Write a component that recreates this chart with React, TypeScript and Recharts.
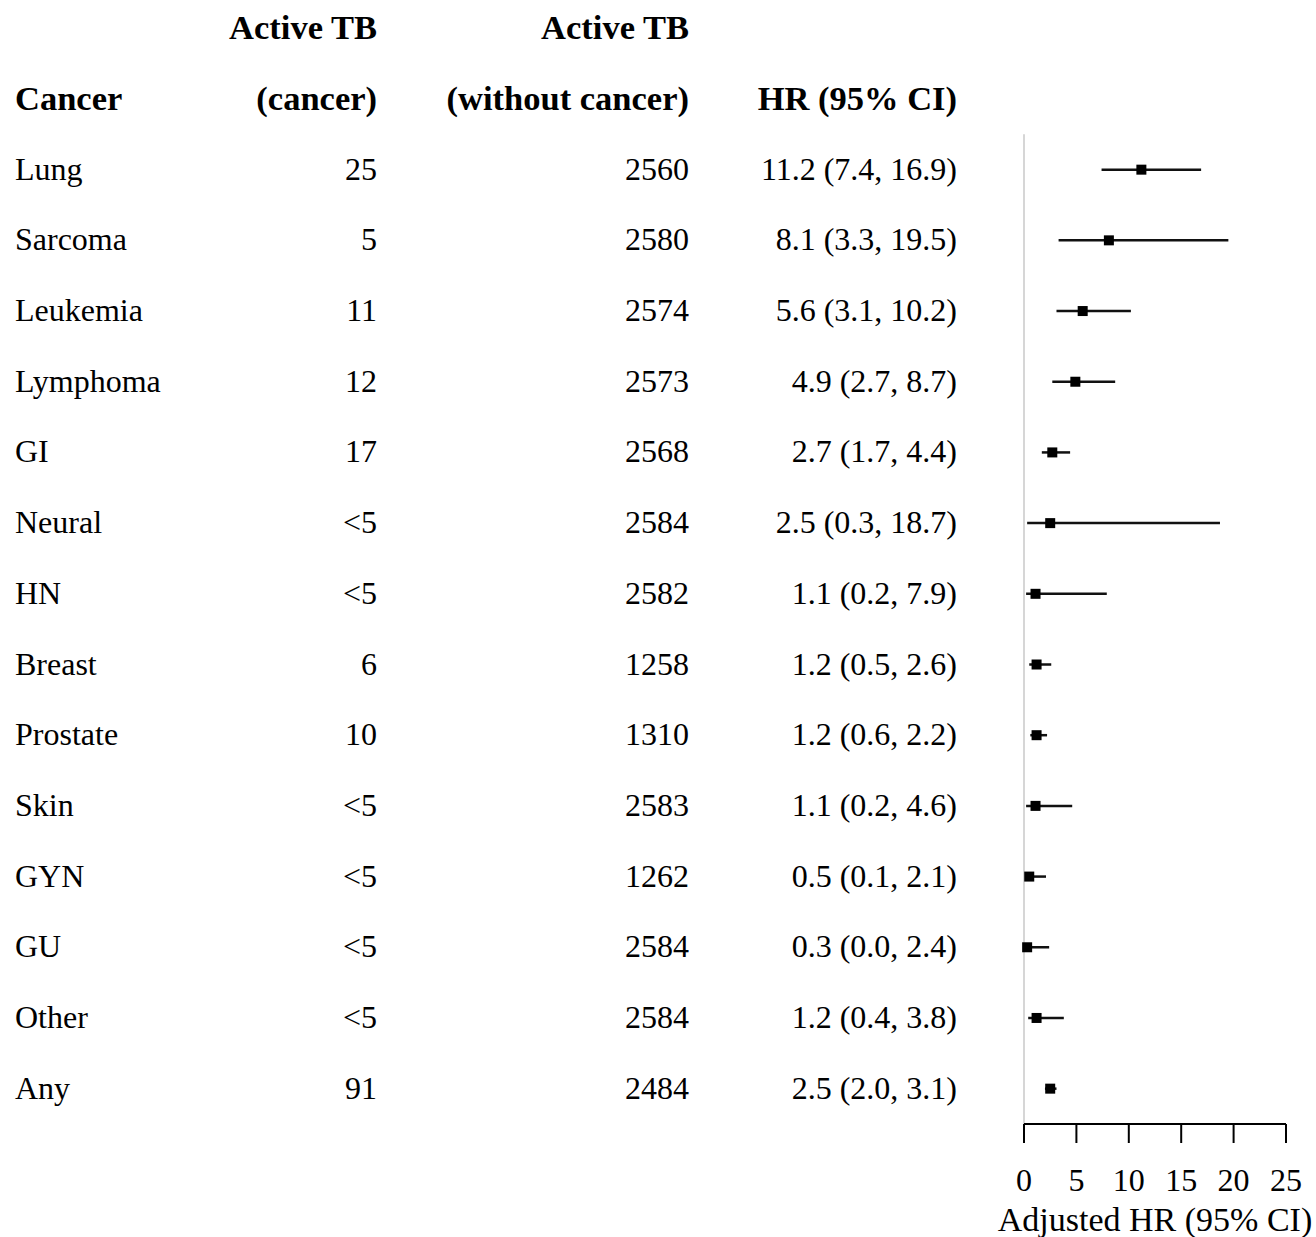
import React from 'react';
import { ScatterChart, Scatter, XAxis, YAxis, ErrorBar, ReferenceLine } from 'recharts';

const cancers = ['Lung', 'Sarcoma', 'Leukemia', 'Lymphoma', 'GI', 'Neural', 'HN', 'Breast', 'Prostate', 'Skin', 'GYN', 'GU', 'Other', 'Any'];
const tbCancer = ['25', '5', '11', '12', '17', '<5', '<5', '6', '10', '<5', '<5', '<5', '<5', '91'];
const tbNoCancer = ['2560', '2580', '2574', '2573', '2568', '2584', '2582', '1258', '1310', '2583', '1262', '2584', '2584', '2484'];
const hr = [11.2, 8.1, 5.6, 4.9, 2.7, 2.5, 1.1, 1.2, 1.2, 1.1, 0.5, 0.3, 1.2, 2.5];
const lower = [7.4, 3.3, 3.1, 2.7, 1.7, 0.3, 0.2, 0.5, 0.6, 0.2, 0.1, 0.0, 0.4, 2.0];
const upper = [16.9, 19.5, 10.2, 8.7, 4.4, 18.7, 7.9, 2.6, 2.2, 4.6, 2.1, 2.4, 3.8, 3.1];
const xTicks = [0, 5, 10, 15, 20, 25];
const headerTop = ['', 'Active TB', 'Active TB', ''];
const headerBottom = ['Cancer', '(cancer)', '(without cancer)', 'HR (95% CI)'];

const FONT = "'Liberation Serif', 'Times New Roman', Times, serif";
const FS = 32;
const FS_BOLD = 34.5;
const COLS = [15, 377, 689, 957];

const data = cancers.map((c, i) => ({
  row: i,
  hr: hr[i],
  err: [+(hr[i] - lower[i]).toFixed(2), +(upper[i] - hr[i]).toFixed(2)],
}));

const rowTicks = [-2, -1, ...cancers.map((_, i) => i)];

const fmt = (v: number) => v.toFixed(1);

const TableTick = (props: any) => {
  const { y, payload } = props;
  const v = payload.value as number;
  const common = { fontFamily: FONT, fill: '#000' };
  if (v < 0) {
    const row = v === -2 ? headerTop : headerBottom;
    const base = y + 11;
    return (
      <g>
        {row.map((t, j) =>
          t ? (
            <text key={j} x={COLS[j]} y={base} textAnchor={j === 0 ? 'start' : 'end'} fontWeight="bold" fontSize={FS_BOLD} {...common}>
              {t}
            </text>
          ) : null
        )}
      </g>
    );
  }
  const i = v;
  const cells = [cancers[i], tbCancer[i], tbNoCancer[i], `${fmt(hr[i])} (${fmt(lower[i])}, ${fmt(upper[i])})`];
  const base = y + 10;
  return (
    <g>
      {cells.map((t, j) => (
        <text key={j} x={COLS[j]} y={base} textAnchor={j === 0 ? 'start' : 'end'} fontSize={FS} {...common}>
          {t}
        </text>
      ))}
    </g>
  );
};

const XTick = (props: any) => {
  const { x, y, payload } = props;
  return (
    <text x={x} y={y} dy={48} textAnchor="middle" fontSize={FS} fontFamily={FONT} fill="#000">
      {payload.value}
    </text>
  );
};

const XLabel = (props: any) => {
  const vb = props.viewBox || {};
  return (
    <text x={vb.x + vb.width / 2} y={1231} textAnchor="middle" fontSize={34} fontFamily={FONT} fill="#000">
      Adjusted HR (95% CI)
    </text>
  );
};

const Square = (props: any) => {
  const { cx, cy } = props;
  return <rect x={cx - 5} y={cy - 5} width={10} height={10} fill="#000" />;
};

export default function App() {
  return (
    <div style={{ position: 'absolute', left: 0, top: 0, background: '#fff' }}>
      <ScatterChart width={1316} height={1237} margin={{ top: 0, right: 30, bottom: 13, left: 1014 }}>
        <XAxis
          type="number"
          dataKey="hr"
          domain={[0, 25]}
          ticks={xTicks}
          interval={0}
          height={100}
          tickSize={19}
          tickMargin={0}
          axisLine={{ stroke: '#000', strokeWidth: 2 }}
          tickLine={{ stroke: '#000', strokeWidth: 2 }}
          tick={<XTick />}
          label={<XLabel />}
        />
        <YAxis
          type="number"
          dataKey="row"
          domain={[-2.4, 13.5]}
          reversed
          ticks={rowTicks}
          interval={0}
          width={10}
          axisLine={false}
          tickLine={false}
          tick={<TableTick />}
          allowDataOverflow
        />
        <ReferenceLine
          segment={[{ x: 0, y: -0.5 }, { x: 0, y: 13.5 }]}
          stroke="#d6d6d6"
          strokeWidth={2}
        />
        <Scatter data={data} shape={<Square />} isAnimationActive={false}>
          <ErrorBar dataKey="err" direction="x" width={0} stroke="#111" strokeWidth={2.5} isAnimationActive={false} />
        </Scatter>
      </ScatterChart>
    </div>
  );
}
